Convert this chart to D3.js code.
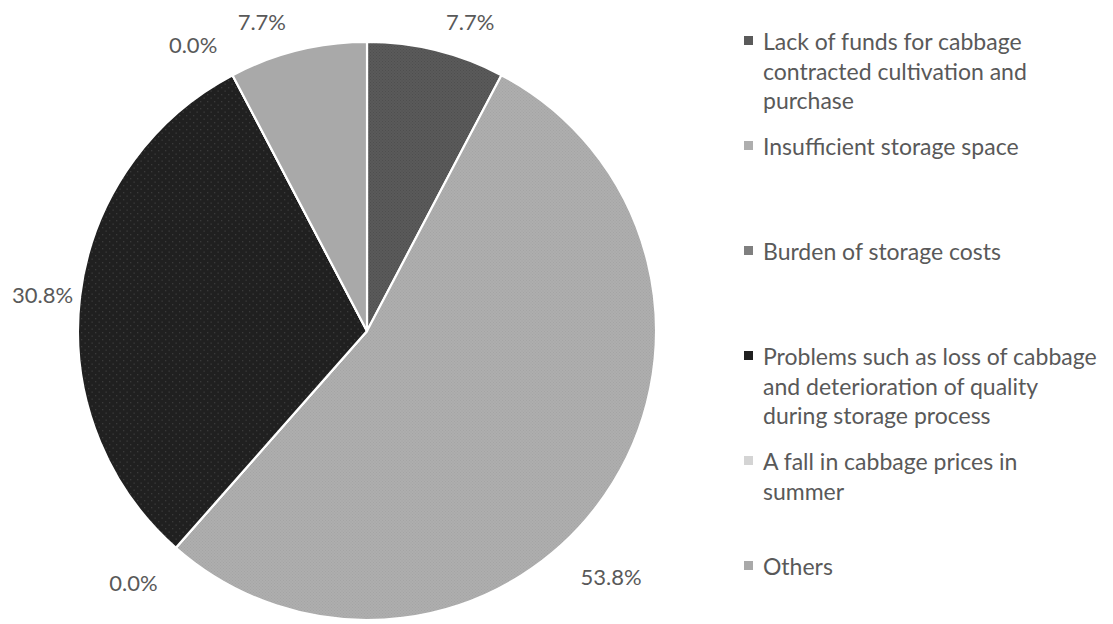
<!DOCTYPE html>
<html>
<head>
<meta charset="utf-8">
<script src="https://cdn.jsdelivr.net/npm/d3@7"></script>
<style>
  html, body { margin: 0; padding: 0; background: #fff; }
  svg { display: block; }
  text { font-family: Lato, "Noto Sans", sans-serif; fill: #595959; }
</style>
</head>
<body>
<svg id="chart" width="1113" height="624"></svg>
<script>
// Reasons reported as obstacles to cabbage storage (share of respondents, %)
const categories = [
  "Lack of funds for cabbage contracted cultivation and purchase",
  "Insufficient storage space",
  "Burden of storage costs",
  "Problems such as loss of cabbage and deterioration of quality during storage process",
  "A fall in cabbage prices in summer",
  "Others"
];
const values = [7.7, 53.8, 0.0, 30.8, 0.0, 7.7];
const legendLines = [
  ["Lack of funds for cabbage", "contracted cultivation and", "purchase"],
  ["Insufficient storage space"],
  ["Burden of storage costs"],
  ["Problems such as loss of cabbage", "and deterioration of quality", "during storage process"],
  ["A fall in cabbage prices in", "summer"],
  ["Others"]
];
const fillBase = ["#5a5a5a", "#aeaeae", "#7f7f7f", "#202020", "#d4d4d4", "#a9a9a9"];
const fillDot  = ["#4e4e4e", "#a4a4a4", "#747474", "#3a3a3a", "#cacaca", "#a9a9a9"];

// hand-placed adjustments of the data labels (px), by slice
const labelNudge = [[5, 0], [-41, 61], [-5, 10], [13, 6], [-6, -4], [-7, 0]];

const svg = d3.select("#chart");
const cx = 367, cy = 331, radius = 289;

// textured slice fills
const defs = svg.append("defs");
categories.forEach((c, i) => {
  const big = i === 3;
  const p = defs.append("pattern")
    .attr("id", "tex" + i)
    .attr("patternUnits", "userSpaceOnUse")
    .attr("width", big ? 7 : 3)
    .attr("height", big ? 7 : 3);
  p.append("rect").attr("width", 10).attr("height", 10).attr("fill", fillBase[i]);
  if (big) {
    p.append("rect").attr("x", 1).attr("y", 1).attr("width", 1.3).attr("height", 1.3).attr("fill", fillDot[i]);
    p.append("rect").attr("x", 4.5).attr("y", 4.5).attr("width", 1.3).attr("height", 1.3).attr("fill", fillDot[i]);
  } else {
    p.append("rect").attr("x", 0).attr("y", 0).attr("width", 1).attr("height", 1).attr("fill", fillDot[i]);
    p.append("rect").attr("x", 1.5).attr("y", 1.5).attr("width", 1).attr("height", 1).attr("fill", fillDot[i]);
  }
});

const pie = d3.pie().sort(null).value(d => d)(values);
const arc = d3.arc().innerRadius(0).outerRadius(radius);

const g = svg.append("g").attr("transform", `translate(${cx},${cy})`);

g.selectAll("path.slice")
  .data(pie)
  .join("path")
  .attr("class", "slice")
  .attr("d", arc)
  .attr("fill", (d, i) => `url(#tex${i})`)
  .attr("stroke", "#fff")
  .attr("stroke-width", 2.2)
  .attr("stroke-linejoin", "round");

// outside-end data labels
const fmt = d => d3.format(".1f")(d) + "%";
const labelFont = 22;
const labelR = radius + 20;
const labels = g.selectAll("text.lbl")
  .data(pie)
  .join("text")
  .attr("class", "lbl")
  .attr("font-size", labelFont)
  .attr("dominant-baseline", "central")
  .attr("text-anchor", "middle")
  .text(d => fmt(d.data));

labels.each(function(d, i) {
  const a = (d.startAngle + d.endAngle) / 2;
  const ux = Math.sin(a), uy = -Math.cos(a);
  const bb = this.getBBox();
  const w = bb.width, h = labelFont * 0.85;
  const sx = Math.abs(ux) < 0.2 ? ux / 0.2 : Math.sign(ux);
  const sy = Math.abs(uy) < 0.2 ? uy / 0.2 : Math.sign(uy);
  d3.select(this)
    .attr("x", ux * labelR + sx * w / 2 + labelNudge[i][0])
    .attr("y", uy * labelR + sy * h / 2 + labelNudge[i][1]);
});

// legend
const legendX = 744, legendTextX = 763, lineH = 29.5;
const slot = d3.scalePoint().domain(d3.range(categories.length)).range([41, 566]);
const legend = svg.append("g");
categories.forEach((c, i) => {
  const y0 = slot(i);
  legend.append("rect")
    .attr("x", legendX).attr("y", y0 - 5)
    .attr("width", 9).attr("height", 9)
    .attr("fill", fillBase[i]);
  const t = legend.append("text")
    .attr("x", legendTextX).attr("y", y0)
    .attr("font-size", 23)
    .attr("dominant-baseline", "central");
  legendLines[i].forEach((line, k) => {
    t.append("tspan").attr("x", legendTextX).attr("y", y0 + k * lineH).text(line);
  });
});
</script>
</body>
</html>
